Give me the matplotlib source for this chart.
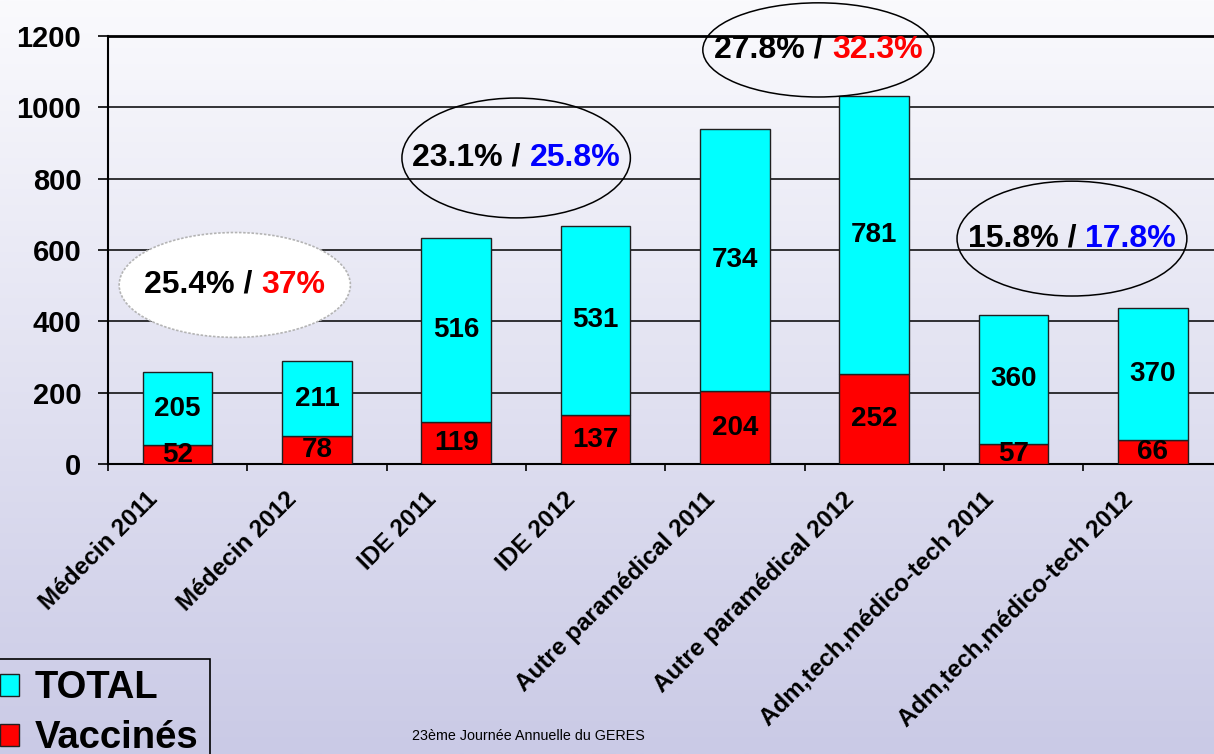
import numpy as np
import matplotlib
matplotlib.use('Agg')
import matplotlib.pyplot as plt
import matplotlib.transforms as mtransforms
from matplotlib.patches import Ellipse
from matplotlib.offsetbox import TextArea, HPacker, AnnotationBbox

plt.rcParams['font.family'] = ['Liberation Sans', 'DejaVu Sans']

# data
categories = ['Médecin 2011', 'Médecin 2012', 'IDE 2011', 'IDE 2012',
              'Autre paramédical 2011', 'Autre paramédical 2012',
              'Adm,tech,médico-tech 2011', 'Adm,tech,médico-tech 2012']
vaccines = [52, 78, 119, 137, 204, 252, 57, 66]
others = [205, 211, 516, 531, 734, 781, 360, 370]

rate_2011 = ['25.4% / ', '23.1% / ', '27.8% / ', '15.8% / ']
rate_2012 = ['37%', '25.8%', '32.3%', '17.8%']
rate_colors = ['#ff0000', '#0000ff', '#ff0000', '#0000ff']

# ellipse layout (data coords)
ell_x = [0.41, 2.43, 4.60, 6.42]
ell_y = [502, 858, 1161, 632]
ell_w = [1.66, 1.64, 1.66, 1.65]
ell_h = [294, 336, 264, 322]

W, H = 1214, 754
fig = plt.figure(figsize=(W / 100, H / 100), dpi=100)

# background gradient
bg = fig.add_axes([0, 0, 1, 1], zorder=-10)
top = np.array([250, 250, 253]) / 255
bot = np.array([202, 202, 230]) / 255
t = np.linspace(0, 1, 256)[:, None, None]
bg.imshow(top + (bot - top) * t, aspect='auto', extent=[0, 1, 0, 1], origin='upper')
bg.axis('off')

ax = fig.add_axes([108 / W, 1 - 464 / H, 8 * 139.3 / W, 428 / H])
ax.set_facecolor('none')
x = np.arange(len(categories))

b_vac = ax.bar(x, vaccines, 0.5, color='#ff0000', edgecolor='#202020', lw=1, zorder=3)
b_tot = ax.bar(x, others, 0.5, bottom=vaccines, color='#00ffff', edgecolor='#202020', lw=1, zorder=3)
ax.bar_label(b_vac, label_type='center', fontsize=20, fontweight='bold', zorder=4)
ax.bar_label(b_tot, label_type='center', fontsize=20, fontweight='bold', zorder=4)

ax.set_xlim(-0.5, 7.5)
ax.set_ylim(0, 1200)
ax.set_yticks(range(0, 1201, 200))
ax.yaxis.grid(True, color='black', lw=1.1)
ax.set_axisbelow(True)
for lbl in ax.get_yticklabels():
    lbl.set_fontweight('bold')
ax.tick_params(axis='y', length=7.2, width=1.2, pad=12, labelsize=21)

ax.set_xticks(x)
ax.set_xticklabels(categories, rotation=45, ha='right', fontsize=17.5, fontweight='bold')
ax.set_xticks(np.arange(-0.5, 8, 1), minor=True)
ax.tick_params(axis='x', which='major', length=0, pad=17)
ax.tick_params(axis='x', which='minor', length=5, width=1.2)
shift = mtransforms.ScaledTranslation(-11 / 72, 0, fig.dpi_scale_trans)
for lbl in ax.get_xticklabels():
    lbl.set_transform(lbl.get_transform() + shift)

ax.spines['right'].set_visible(False)
ax.spines['top'].set_linewidth(2)
ax.spines['left'].set_linewidth(1.5)
ax.spines['bottom'].set_linewidth(1.5)

# ellipses with rates
for i in range(4):
    if i == 0:
        e = Ellipse((ell_x[i], ell_y[i]), ell_w[i], ell_h[i], facecolor='white',
                    edgecolor='#b4b4b4', lw=1.2, ls=(0, (1.5, 1)), zorder=4, clip_on=False)
    else:
        e = Ellipse((ell_x[i], ell_y[i]), ell_w[i], ell_h[i], facecolor='none',
                    edgecolor='black', lw=1.1, zorder=4, clip_on=False)
    ax.add_patch(e)
    box = HPacker(children=[
        TextArea(rate_2011[i], textprops=dict(weight='bold', size=23, color='black')),
        TextArea(rate_2012[i], textprops=dict(weight='bold', size=23, color=rate_colors[i]))],
        pad=0, sep=0, align='baseline')
    ab = AnnotationBbox(box, (ell_x[i], ell_y[i]), xycoords='data', frameon=False,
                        box_alignment=(0.5, 0.5), annotation_clip=False, zorder=5)
    ax.add_artist(ab)

leg = fig.legend([b_tot, b_vac], ['TOTAL', 'Vaccinés'], loc='upper right',
                 bbox_to_anchor=(210 / W, 1 - 659 / H), bbox_transform=fig.transFigure,
                 frameon=True, fancybox=False, edgecolor='black', facecolor='none',
                 framealpha=1, prop=dict(weight='bold', size=27.5), handlelength=0.48,
                 handleheight=0.52, handletextpad=0.42, labelspacing=0.36,
                 borderpad=0.3, borderaxespad=0)
leg.get_frame().set_linewidth(1.2)

fig.text(412 / W, 1 - 736 / H, '23ème Journée Annuelle du GERES', fontsize=10.3,
         va='center', ha='left')

fig.savefig('out.png', dpi=100)
